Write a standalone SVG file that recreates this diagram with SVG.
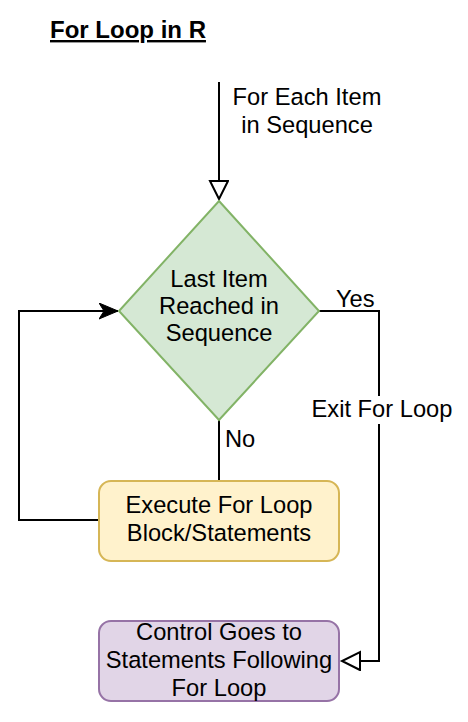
<svg xmlns="http://www.w3.org/2000/svg" width="468" height="722" viewBox="0 0 468 722">
<style>
text{font-family:"Liberation Sans",Arial,Helvetica,sans-serif;font-size:23.7px;fill:#000}
.c{text-anchor:middle}
.edge{fill:none;stroke:#000;stroke-width:2}
</style>
<defs>
<marker id="open" markerWidth="22" markerHeight="22" refX="19" refY="10" orient="auto" markerUnits="userSpaceOnUse">
<path d="M1,1 L19,10 L1,19 Z" fill="#fff" stroke="#000" stroke-width="2"/>
</marker>
<marker id="classic" markerWidth="22" markerHeight="22" refX="19" refY="8" orient="auto" markerUnits="userSpaceOnUse">
<path d="M0,0 L19,8 L0,16 L5,8 Z" fill="#000" stroke="#000" stroke-width="1"/>
</marker>
</defs>
<rect width="468" height="722" fill="#fff"/>
<g id="title">
<text x="50" y="38" style="font-weight:bold;font-size:24px;text-decoration:underline">For Loop in R</text>
</g>
<g id="connectors">
<path class="edge" d="M219,82 V199" marker-end="url(#open)"/>
<path class="edge" d="M319,311 H379 V661 H342" marker-end="url(#open)"/>
<path class="edge" d="M219,420 V481"/>
<path class="edge" d="M98,520 H19 V311 H118" marker-end="url(#classic)"/>
<rect x="317" y="396" width="132" height="28" fill="#fff"/>
<text x="307" y="105" class="c">For Each Item</text>
<text x="307" y="133" class="c">in Sequence</text>
<text x="336" y="307">Yes</text>
<text x="382" y="417" class="c">Exit For Loop</text>
<text x="225" y="447">No</text>
</g>
<g id="decision">
<path d="M219,201 L319,311 L219,420 L119,311 Z" fill="#d5e8d4" stroke="#82b366" stroke-width="2"/>
<text x="219" y="287" class="c">Last Item</text>
<text x="219" y="314" class="c">Reached in</text>
<text x="219" y="341" class="c">Sequence</text>
</g>
<g id="execute">
<rect x="99" y="481" width="240" height="80" rx="12" fill="#fff2cc" stroke="#d6b656" stroke-width="2"/>
<text x="219" y="513" class="c">Execute For Loop</text>
<text x="219" y="541" class="c">Block/Statements</text>
</g>
<g id="control">
<rect x="99" y="621" width="240" height="80" rx="12" fill="#e1d5e7" stroke="#9673a6" stroke-width="2"/>
<text x="219" y="640" class="c">Control Goes to</text>
<text x="219" y="668" class="c">Statements Following</text>
<text x="219" y="696" class="c">For Loop</text>
</g>
</svg>
